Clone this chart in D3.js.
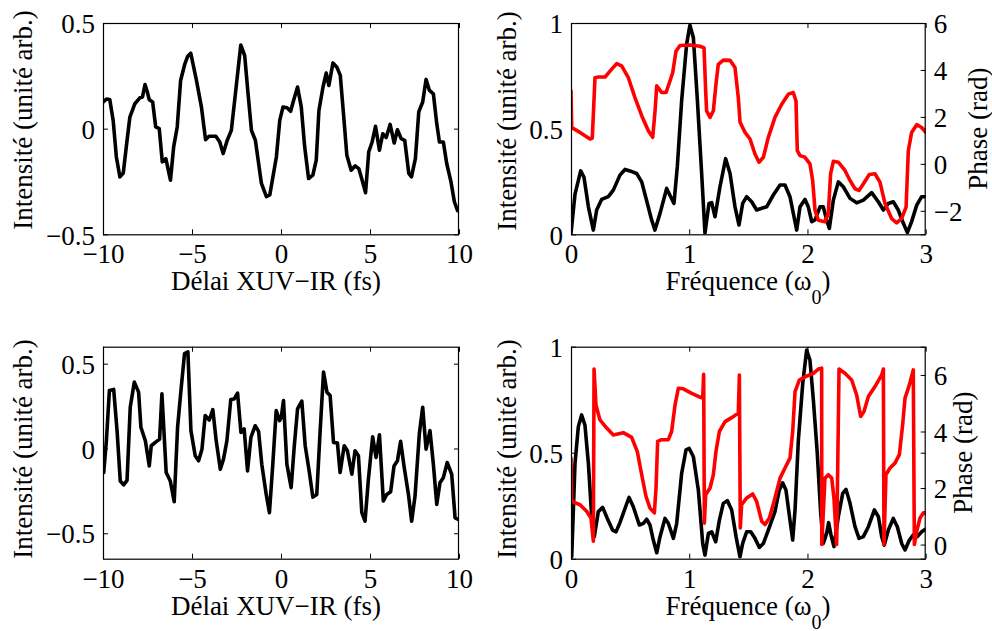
<!DOCTYPE html>
<html><head><meta charset="utf-8">
<script src="https://cdn.jsdelivr.net/npm/d3@7"></script>
<style>
html,body{margin:0;padding:0;background:#fff;}
svg{display:block;}
</style></head>
<body>
<svg id="chart" width="992" height="631"></svg>
<script>
// ---------- DATA ----------
// Top-left: delay (fs) and intensity
const delayTop = [-10,-9.81,-9.62,-9.43,-9.25,-9.05,-8.86,-8.67,-8.49,-8.21,-7.93,-7.78,-7.64,-7.51,-7.40,-7.21,-7.04,-6.84,-6.67,-6.47,-6.21,-6.03,-5.83,-5.64,-5.40,-5.25,-5.07,-4.75,-4.47,-4.24,-4.04,-3.66,-3.44,-3.25,-3.02,-2.79,-2.50,-2.26,-2.04,-1.85,-1.66,-1.44,-1.10,-0.82,-0.63,-0.26,-0.07,0.11,0.34,0.54,0.71,0.93,1.14,1.33,1.55,1.79,1.98,2.13,2.36,2.54,2.69,2.92,3.14,3.33,3.51,3.70,3.94,4.17,4.37,4.56,4.75,4.93,5.12,5.31,5.53,5.72,5.91,6.13,6.36,6.54,6.75,6.95,7.18,7.33,7.55,7.74,7.96,8.15,8.34,8.56,8.75,8.90,9.12,9.31,9.55,9.74,9.92];
const intensityTop = [0.126,0.14,0.138,0.04,-0.134,-0.228,-0.21,-0.07,0.055,0.118,0.146,0.15,0.209,0.173,0.137,0.126,0.008,0,-0.157,-0.142,-0.244,-0.086,0.008,0.228,0.307,0.341,0.357,0.228,0.102,-0.052,-0.036,-0.036,-0.063,-0.118,-0.055,-0.008,0.212,0.396,0.346,0.165,-0.008,-0.055,-0.259,-0.322,-0.314,-0.134,0.039,0.102,0.099,0.082,0.134,0.197,0.102,-0.086,-0.236,-0.22,-0.149,0.086,0.197,0.263,0.204,0.311,0.291,0.252,0.071,-0.126,-0.197,-0.176,-0.189,-0.244,-0.303,-0.11,-0.063,0.011,-0.102,-0.024,-0.042,0.02,-0.068,-0.005,-0.047,-0.055,-0.212,-0.228,-0.142,0.079,0.126,0.233,0.181,0.165,0.024,-0.063,-0.063,-0.165,-0.252,-0.346,-0.388];

// Top-right: spectrum amplitude (black) and phase (red)
const freqTopAmp = [0,0.034,0.082,0.11,0.147,0.189,0.217,0.259,0.316,0.358,0.414,0.457,0.499,0.555,0.598,0.646,0.682,0.71,0.753,0.809,0.843,0.871,0.899,0.936,0.978,1.006,1.035,1.069,1.105,1.133,1.167,1.19,1.218,1.26,1.308,1.345,1.387,1.421,1.452,1.486,1.528,1.57,1.613,1.655,1.711,1.768,1.81,1.852,1.886,1.909,1.937,1.979,2.007,2.036,2.064,2.106,2.134,2.162,2.185,2.219,2.261,2.303,2.36,2.416,2.473,2.543,2.599,2.642,2.684,2.726,2.768,2.811,2.845,2.881,2.924,2.966,3.0];
const ampTop = [0.005,0.19,0.30,0.27,0.13,0.02,0.115,0.165,0.178,0.209,0.28,0.307,0.30,0.288,0.248,0.146,0.068,0.02,0.099,0.217,0.178,0.146,0.319,0.634,0.90,0.99,0.93,0.634,0.288,0.005,0.146,0.15,0.083,0.225,0.358,0.288,0.13,0.044,0.146,0.178,0.154,0.115,0.123,0.13,0.186,0.233,0.233,0.178,0.083,0.02,0.13,0.165,0.13,0.06,0.068,0.13,0.13,0.068,0.028,0.162,0.248,0.225,0.17,0.149,0.162,0.197,0.154,0.115,0.146,0.154,0.115,0.052,0.008,0.06,0.138,0.178,0.178];
const freqTopPhase = [0,0.006,0.076,0.161,0.18,0.203,0.231,0.288,0.33,0.386,0.428,0.485,0.541,0.598,0.654,0.691,0.711,0.725,0.767,0.804,0.837,0.86,0.888,0.922,1.006,1.091,1.125,1.139,1.147,1.176,1.204,1.226,1.246,1.288,1.345,1.387,1.415,1.43,1.472,1.514,1.556,1.59,1.627,1.669,1.725,1.782,1.838,1.88,1.903,1.914,1.937,1.979,2.021,2.044,2.064,2.092,2.148,2.176,2.196,2.219,2.261,2.317,2.36,2.402,2.436,2.473,2.523,2.571,2.613,2.656,2.712,2.754,2.796,2.834,2.853,2.881,2.924,2.966,3.0];
const phaseTop = [3.11,1.55,1.34,1.06,1.10,3.67,3.7,3.7,3.95,4.27,4.17,3.67,2.82,2.05,1.41,1.13,2.26,3.32,3.04,3.04,3.53,3.88,4.8,5.04,5.06,5.01,4.94,3.11,2.26,1.98,2.26,3.39,4.24,4.42,4.41,4.1,2.82,1.77,1.34,1.06,0.42,0.07,0.28,1.13,1.98,2.54,2.97,3.04,2.68,0.56,0.35,0.28,0,-0.71,-1.98,-2.4,-2.47,-2.12,-0.42,0.11,0.07,-0.28,-0.71,-1.06,-1.13,-0.85,-0.45,-0.42,-0.78,-1.69,-2.33,-2.51,-2.33,-1.84,0.56,1.34,1.67,1.55,1.34];

// Bottom-left: delay (fs) and intensity
const delayBottom = [-9.96,-9.81,-9.64,-9.40,-9.21,-9.03,-8.84,-8.65,-8.47,-8.24,-8.0,-7.87,-7.62,-7.40,-7.29,-7.06,-6.82,-6.69,-6.45,-6.22,-6.0,-5.81,-5.62,-5.42,-5.23,-5.06,-4.82,-4.63,-4.44,-4.26,-4.03,-3.83,-3.64,-3.41,-3.23,-3.04,-2.82,-2.63,-2.44,-2.25,-2.07,-1.88,-1.69,-1.45,-1.26,-1.08,-0.83,-0.65,-0.46,-0.27,-0.08,0.01,0.14,0.33,0.57,0.74,0.93,1.17,1.36,1.58,1.79,2.01,2.20,2.39,2.58,2.76,2.95,3.17,3.32,3.55,3.73,3.98,4.16,4.35,4.54,4.72,4.91,5.15,5.34,5.53,5.75,5.94,6.16,6.35,6.54,6.72,6.91,7.16,7.34,7.53,7.77,7.96,8.15,8.37,8.56,8.75,8.93,9.12,9.34,9.59,9.78,9.96];
const intensityBottom = [-0.142,0.045,0.342,0.348,0.105,-0.192,-0.215,-0.188,0.243,0.391,0.332,0.125,0.045,-0.103,0.016,0.036,0.055,0.322,-0.142,-0.192,-0.314,0.125,0.342,0.559,0.569,0.105,-0.043,-0.073,-0.004,0.194,0.168,0.229,0.045,-0.123,-0.063,0.045,0.289,0.292,0.326,0.095,0.115,-0.132,0.065,0.134,0.101,-0.093,-0.271,-0.379,-0.093,0.223,0.164,0.18,0.283,-0.093,-0.231,0.006,0.233,0.279,0.016,-0.132,-0.287,-0.271,0.105,0.451,0.332,0.312,0.036,0.032,-0.142,0.016,-0.014,-0.152,-0.014,-0.043,-0.379,-0.429,-0.182,0.069,-0.053,0.081,-0.31,-0.271,-0.255,-0.103,-0.073,0.042,-0.103,-0.271,-0.429,-0.281,0.085,0.243,-0.004,0.105,-0.093,-0.33,-0.202,-0.172,-0.083,-0.152,-0.409,-0.419];

// Bottom-right: spectrum amplitude (black) and phase (red)
const freqBottomAmp = [0.006,0.034,0.062,0.09,0.118,0.147,0.175,0.197,0.231,0.268,0.307,0.352,0.381,0.414,0.462,0.491,0.527,0.578,0.612,0.64,0.668,0.696,0.725,0.753,0.795,0.823,0.866,0.894,0.936,0.973,1.0,1.035,1.077,1.114,1.133,1.162,1.19,1.224,1.255,1.288,1.322,1.359,1.396,1.429,1.452,1.486,1.52,1.556,1.593,1.627,1.669,1.725,1.762,1.79,1.818,1.852,1.875,1.895,1.923,1.96,1.993,2.021,2.05,2.083,2.112,2.134,2.162,2.179,2.199,2.224,2.261,2.298,2.326,2.36,2.402,2.436,2.473,2.515,2.566,2.6,2.628,2.65,2.684,2.726,2.76,2.797,2.825,2.862,2.895,2.929,2.966,2.994];
const ampBottom = [0.009,0.45,0.623,0.678,0.63,0.45,0.198,0.104,0.222,0.242,0.19,0.135,0.127,0.17,0.245,0.289,0.245,0.159,0.167,0.186,0.159,0.088,0.028,0.104,0.19,0.167,0.096,0.167,0.403,0.513,0.52,0.481,0.324,0.072,0.017,0.119,0.127,0.08,0.182,0.261,0.274,0.23,0.104,0.009,0.072,0.127,0.127,0.096,0.053,0.072,0.135,0.222,0.324,0.358,0.324,0.182,0.088,0.23,0.56,0.827,0.984,0.937,0.748,0.497,0.214,0.072,0.119,0.17,0.112,0.057,0.198,0.308,0.327,0.261,0.151,0.096,0.104,0.151,0.23,0.198,0.104,0.064,0.135,0.19,0.151,0.072,0.041,0.088,0.112,0.104,0.127,0.138];
const freqBottomPhase = [0,0.006,0.076,0.132,0.169,0.189,0.195,0.211,0.245,0.302,0.358,0.442,0.513,0.561,0.598,0.634,0.668,0.705,0.719,0.733,0.767,0.823,0.851,0.88,0.908,0.95,1.021,1.077,1.114,1.122,1.128,1.139,1.176,1.204,1.226,1.255,1.303,1.359,1.415,1.424,1.432,1.443,1.486,1.537,1.57,1.613,1.641,1.678,1.725,1.768,1.81,1.852,1.875,1.895,1.931,1.993,2.05,2.092,2.12,2.121,2.148,2.176,2.205,2.224,2.247,2.267,2.317,2.374,2.416,2.45,2.478,2.515,2.571,2.628,2.642,2.647,2.664,2.698,2.74,2.777,2.805,2.825,2.862,2.895,2.904,2.924,2.952,2.98,3.0];
const phaseBottom = [3.06,1.53,1.41,1.18,0.94,0.12,6.21,4.94,4.41,4.12,3.88,3.96,3.79,3.29,2.47,1.71,1.29,1.12,2.0,3.65,3.71,3.71,4.0,4.94,5.53,5.51,5.35,5.24,5.18,6.02,0.76,1.76,2.0,2.47,3.29,4.0,4.35,4.49,4.65,6.0,0.59,1.41,1.65,1.79,1.53,0.82,0.71,0.94,1.65,2.35,2.71,3.06,4.0,5.41,5.82,5.96,6.06,6.21,6.24,0,2.35,2.47,2.35,1.65,0,6.21,6.06,5.82,5.29,4.53,4.71,5.24,5.59,6.0,6.21,0,2.47,2.71,2.88,3.18,4.24,5.18,5.65,6.18,0,0.47,0.94,1.12,1.12];

// Tick values
const delayTicks = [-10,-5,0,5,10];
const freqTicks = [0,1,2,3];
const intensityTicks = [-0.5,0,0.5];
const ampTicks = [0,0.5,1];
const phaseTicksTop = [-2,0,2,4,6];
const phaseTicksBottom = [0,2,4,6];

// Labels
const labelDelay = "Délai XUV−IR (fs)";
const labelInt = "Intensité (unité arb.)";
const labelPhase = "Phase (rad)";

// ---------- DRAW ----------
const FONT = "'Liberation Serif', 'DejaVu Serif', 'Noto Serif', 'Times New Roman', Times, serif";
const svg = d3.select("#chart").attr("font-family", FONT);
const FS = 27;
const TICK = 5;
const fmt = d3.format("");

function styleText(sel){
  return sel.attr("font-family", FONT).style("font-family", FONT).attr("font-size", FS).style("fill","#000");
}

function panel(o){
  const g = svg.append("g");
  const x = d3.scaleLinear(o.xDomain, [o.x0, o.x1]);
  const yL = d3.scaleLinear(o.yDomain, [o.y1, o.y0]);
  const yR = o.yRDomain ? d3.scaleLinear(o.yRDomain, [o.y1, o.y0]) : null;
  const id = "clip" + Math.round(o.x0) + "_" + Math.round(o.y0);
  svg.append("clipPath").attr("id", id).append("rect")
    .attr("x", o.x0).attr("y", o.y0).attr("width", o.x1 - o.x0).attr("height", o.y1 - o.y0);

  const gB = g.append("g").attr("transform", `translate(0,${o.y1})`)
    .call(d3.axisBottom(x).tickValues(o.xTicks).tickSize(-TICK).tickFormat(fmt));
  const gT = g.append("g").attr("transform", `translate(0,${o.y0})`)
    .call(d3.axisTop(x).tickValues(o.xTicks).tickSize(-TICK).tickFormat(""));
  const gL = g.append("g").attr("transform", `translate(${o.x0},0)`)
    .call(d3.axisLeft(yL).tickValues(o.yTicks).tickSize(-TICK).tickPadding(8).tickFormat(fmt));
  const gR1 = g.append("g").attr("transform", `translate(${o.x1},0)`)
    .call(d3.axisRight(yL).tickValues(o.yTicks).tickSize(-TICK).tickFormat(""));
  let gR = null;
  if (yR){
    gR = g.append("g").attr("transform", `translate(${o.x1},0)`)
      .call(d3.axisRight(yR).tickValues(o.yRTicks).tickSize(-TICK).tickPadding(8).tickFormat(fmt));
  }
  [gB,gT,gL,gR1,gR].forEach(a=>{
    if(!a) return;
    a.attr("font-family", FONT).attr("font-size", FS);
    a.select(".domain").remove();
    a.selectAll("line").attr("stroke","#000").attr("stroke-width",1);
    styleText(a.selectAll("text"));
  });
  gB.selectAll("text").attr("dy", null).attr("y", 29);
  gL.selectAll("text").attr("dy","0.36em");
  if (gR) gR.selectAll("text").attr("dy","0.36em");

  const line = (xs, ys, ysc) => d3.line().x((d,i)=>x(xs[i])).y((d,i)=>ysc(ys[i]))(ys);
  const cg = g.append("g").attr("clip-path", `url(#${id})`);
  o.series.forEach(s=>{
    cg.append("path").attr("d", line(s.x, s.y, s.right ? yR : yL))
      .attr("fill","none").attr("stroke", s.color).attr("stroke-width", 3.6)
      .attr("stroke-linejoin","round").attr("stroke-linecap","round");
  });

  g.append("rect").attr("x", o.x0 + 0.5).attr("y", o.y0 + 0.5)
    .attr("width", o.x1 - o.x0 - 1).attr("height", o.y1 - o.y0)
    .attr("fill","none").attr("stroke","#000").attr("stroke-width",1.2);

  const xl = styleText(g.append("text")).attr("x", o.xLabelX).attr("y", o.y1 + 56)
    .attr("text-anchor","middle");
  if (o.xLabelSub){
    xl.append("tspan").text(o.xLabel);
    xl.append("tspan").text(o.xLabelSub).attr("font-size",20).attr("dy",14);
    xl.append("tspan").text(")").attr("dy",-14);
  } else xl.text(o.xLabel);

  styleText(g.append("text")).attr("transform", `translate(${o.yLabelX},${o.yLabelY}) rotate(-90)`)
    .attr("text-anchor","middle").text(labelInt);
  if (o.yRLabelX){
    styleText(g.append("text")).attr("transform", `translate(${o.yRLabelX},${(o.y0+o.y1)/2}) rotate(-90)`)
      .attr("text-anchor","middle").text(labelPhase);
  }
}

panel({x0:103, x1:459, y0:23, y1:234.3, xDomain:[-10,10], yDomain:[-0.5,0.5],
  xTicks:delayTicks, yTicks:intensityTicks, xLabel:labelDelay, xLabelX:276,
  yLabelX:32, yLabelY:120,
  series:[{x:delayTop, y:intensityTop, color:"#000"}]});

panel({x0:571, x1:925.7, y0:23, y1:234.3, xDomain:[0,3], yDomain:[0,1], yRDomain:[-3,6],
  xTicks:freqTicks, yTicks:ampTicks, yRTicks:phaseTicksTop,
  xLabel:"Fréquence (ω", xLabelSub:"0", xLabelX:748,
  yLabelX:516, yLabelY:121, yRLabelX:987,
  series:[{x:freqTopAmp, y:ampTop, color:"#000"},{x:freqTopPhase, y:phaseTop, color:"#ff0000", right:true}]});

panel({x0:103, x1:459, y0:346.7, y1:558.7, xDomain:[-10,10], yDomain:[-0.65,0.6],
  xTicks:delayTicks, yTicks:intensityTicks, xLabel:labelDelay, xLabelX:276,
  yLabelX:32, yLabelY:449,
  series:[{x:delayBottom, y:intensityBottom, color:"#000"}]});

panel({x0:571, x1:925.7, y0:346.7, y1:558.7, xDomain:[0,3], yDomain:[0,1], yRDomain:[-0.5,7],
  xTicks:freqTicks, yTicks:ampTicks, yRTicks:phaseTicksBottom,
  xLabel:"Fréquence (ω", xLabelSub:"0", xLabelX:748,
  yLabelX:516, yLabelY:449, yRLabelX:972,
  series:[{x:freqBottomAmp, y:ampBottom, color:"#000"},{x:freqBottomPhase, y:phaseBottom, color:"#ff0000", right:true}]});
</script>
</body></html>
